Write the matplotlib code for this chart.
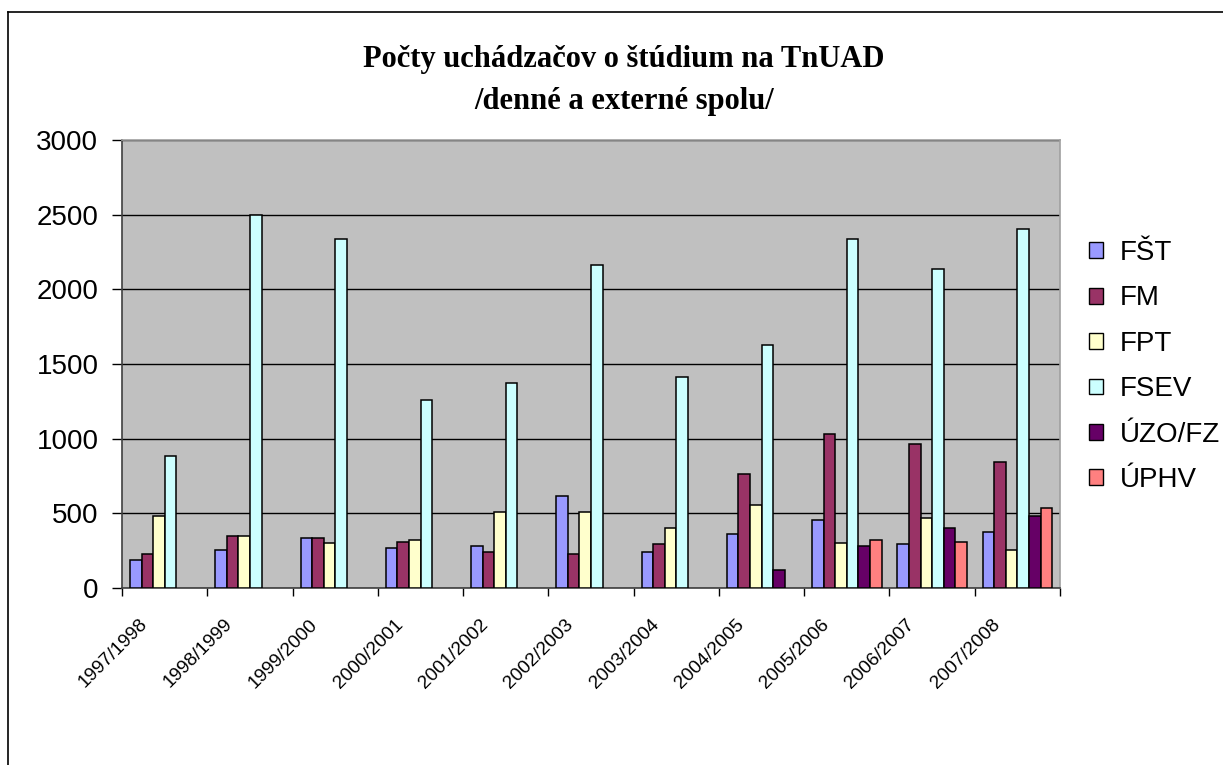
import numpy as np
import matplotlib.pyplot as plt
from matplotlib.lines import Line2D
from matplotlib.patches import Patch
import matplotlib.transforms as mtransforms


years = ["1997/1998", "1998/1999", "1999/2000", "2000/2001", "2001/2002",
         "2002/2003", "2003/2004", "2004/2005", "2005/2006", "2006/2007",
         "2007/2008"]

series_names = ["FŠT", "FM", "FPT", "FSEV", "ÚZO/FZ", "ÚPHV"]
series_colors = ["#9999FF", "#993366", "#FFFFCC", "#CCFFFF", "#660066", "#FF8080"]

nan = np.nan
fst = [187, 252, 334, 267, 278, 613, 238, 359, 455, 294, 372]
fm = [227, 348, 334, 305, 238, 225, 294, 762, 1029, 962, 842]
fpt = [479, 348, 303, 321, 508, 506, 401, 559, 303, 466, 252]
fsev = [882, 2500, 2340, 1257, 1375, 2163, 1415, 1629, 2340, 2139, 2404]
uzo_fz = [nan, nan, nan, nan, nan, nan, nan, 118, 278, 401, 483]
uphv = [nan, nan, nan, nan, nan, nan, nan, nan, 319, 305, 535]


def draw_chart():
    fig = plt.figure(figsize=(12.23, 7.65), dpi=100)
    fig.patch.set_facecolor("white")

    # chart border (only left and top visible, rest is cut off)
    fig.add_artist(Line2D([8 / 1223, 8 / 1223], [0, 1 - 12 / 765],
                          transform=fig.transFigure, color="black", lw=1.2))
    fig.add_artist(Line2D([8 / 1223, 1], [1 - 12 / 765, 1 - 12 / 765],
                          transform=fig.transFigure, color="black", lw=1.2))

    ax = fig.add_axes([122 / 1223, 1 - 588 / 765, (1060 - 122) / 1223, (588 - 140) / 765])
    ax.set_facecolor("#C0C0C0")

    data = [fst, fm, fpt, fsev, uzo_fz, uphv]
    x = np.arange(len(years))
    w = 11.6 / 85.5
    start = -0.5 + 8 / 85.5
    for j, (vals, col, name) in enumerate(zip(data, series_colors, series_names)):
        vals = np.array(vals, dtype=float)
        ok = ~np.isnan(vals)
        ax.bar(x[ok] + start + j * w, vals[ok], width=w, align="edge",
               color=col, edgecolor="black", linewidth=1.1, zorder=3, label=name)

    ax.set_xlim(-0.5, len(years) - 0.5)
    ax.set_ylim(0, 3000)
    ax.set_yticks(np.arange(0, 3001, 500))
    ax.yaxis.grid(True, color="black", linewidth=1.0, zorder=1)
    ax.set_axisbelow(True)
    ax.tick_params(axis="y", labelsize=20, length=7, width=1, direction="out", pad=10)
    for lbl in ax.get_yticklabels():
        lbl.set_family("Liberation Sans")

    # ticks between categories, labels at centers
    ax.set_xticks(np.arange(-0.5, len(years), 1.0))
    ax.set_xticklabels([])
    ax.set_xticks(x, minor=True)
    ax.set_xticklabels(years, minor=True, rotation=45, ha="right",
                       rotation_mode="anchor", fontsize=13.7, family="Liberation Sans")
    ax.tick_params(axis="x", which="major", length=6, width=1, direction="out")
    ax.tick_params(axis="x", which="minor", length=0, pad=20)
    offset = mtransforms.ScaledTranslation(-26 / 100, 0, fig.dpi_scale_trans)
    for lbl in ax.xaxis.get_minorticklabels():
        lbl.set_transform(lbl.get_transform() + offset)

    for side in ["left", "bottom"]:
        ax.spines[side].set_color("#404040")
        ax.spines[side].set_linewidth(1.2)
    for side in ["top", "right"]:
        ax.spines[side].set_color("#A0A0A0")
        ax.spines[side].set_linewidth(1.2)

    fig.text(624 / 1223, 1 - 60 / 765, "Počty uchádzačov o štúdium na TnUAD",
             ha="center", va="center", fontsize=22, fontweight="bold",
             family="Liberation Serif")
    fig.text(624 / 1223, 1 - 101 / 765, "/denné a externé spolu/",
             ha="center", va="center", fontsize=22, fontweight="bold",
             family="Liberation Serif")

    handles = [Patch(facecolor=c, edgecolor="black", linewidth=1.0) for c in series_colors]
    fig.legend(handles, series_names, loc="upper left",
               bbox_to_anchor=(1089 / 1223, 1 - 240 / 765), frameon=False,
               prop={"family": "Liberation Sans", "size": 20},
               handlelength=0.5, handleheight=0.5, handletextpad=0.6,
               labelspacing=0.70, borderaxespad=0, borderpad=0)

    fig.savefig("out.png", dpi=100)


def main():
    draw_chart()


if __name__ == "__main__":
    main()
